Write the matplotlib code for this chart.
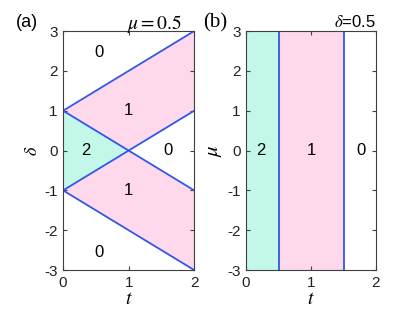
import numpy as np
import matplotlib.pyplot as plt

plt.rcParams['font.family'] = ['Liberation Sans', 'DejaVu Sans']
plt.rcParams['mathtext.fontset'] = 'stix'
plt.rcParams['axes.unicode_minus'] = False

# фазовые границы для (a): delta = +-1 +- t
t_a = np.array([0.0, 1.0, 2.0])
upper_top = np.array([1.0, 2.0, 3.0])       # delta = 1 + t
upper_bot = np.array([1.0, 0.0, 1.0])       # max(1 - t, t - 1)
lower_top = np.array([-1.0, 0.0, -1.0])     # min(t - 1, 1 - t)
lower_bot = np.array([-1.0, -2.0, -3.0])    # delta = -1 - t
green_top = np.array([1.0, 0.0])
green_bot = np.array([-1.0, 0.0])
t_green = np.array([0.0, 1.0])

# границы для (b)
b_edges = [0.0, 0.5, 1.5, 2.0]
b_labels = ['2', '1', '0']
b_label_t = [0.22, 1.0, 1.77]

# подписи областей (a)
a_text_pos = [(0.55, 2.45, '0'), (1.0, 1.0, '1'), (0.35, 0.0, '2'),
              (1.6, 0.0, '0'), (1.0, -1.0, '1'), (0.55, -2.55, '0')]

green = '#c2f7e9'
pink = '#fdd9eb'
blue = '#3556e6'
axcol = '#404040'

fig = plt.figure(figsize=(4.15, 3.2), dpi=100)
ax1 = fig.add_axes([0.152, 0.156, 0.316, 0.747])
ax2 = fig.add_axes([0.593, 0.156, 0.313, 0.747])

# (a)
ax1.fill_between(t_a, upper_bot, upper_top, color=pink, lw=0)
ax1.fill_between(t_a, lower_bot, lower_top, color=pink, lw=0)
ax1.fill_between(t_green, green_bot, green_top, color=green, lw=0)
ts = np.array([0.0, 2.0])
for d0 in [1, -1]:
    ax1.plot(ts, d0 + ts, color=blue, lw=1.3)
    ax1.plot(ts, d0 - ts, color=blue, lw=1.3)
for x, y, s in a_text_pos:
    ax1.text(x, y, s, ha='center', va='center', fontsize=12)
ax1.set_ylabel(r'$\delta$', fontsize=13, labelpad=2)
ax1.text(-0.36, 1.015, '(a)', transform=ax1.transAxes, fontsize=13)
ax1.text(0.91, 1.01, r'$\mu = 0.5$', transform=ax1.transAxes, ha='right',
         fontsize=14)

# (b)
ax2.axvspan(b_edges[0], b_edges[1], color=green, lw=0)
ax2.axvspan(b_edges[1], b_edges[2], color=pink, lw=0)
for xb in b_edges[1:3]:
    ax2.axvline(xb, color=blue, lw=1.3)
for xm, s in zip(b_label_t, b_labels):
    ax2.text(xm, 0, s, ha='center', va='center', fontsize=12)
ax2.set_ylabel(r'$\mu$', fontsize=15, labelpad=2)
ax2.text(-0.33, 1.015, '(b)', transform=ax2.transAxes, fontsize=15,
         family='Liberation Serif')
ax2.text(1.0, 1.015, r'$\delta$=0.5', transform=ax2.transAxes, ha='right',
         fontsize=12)

for ax in [ax1, ax2]:
    ax.set_xlim(0, 2)
    ax.set_ylim(-3, 3)
    ax.set_xticks([0, 1, 2])
    ax.set_yticks(range(-3, 4))
    ax.set_xlabel(r'$t$', fontsize=14, labelpad=1)
    ax.tick_params(direction='in', length=3, top=True, right=True,
                   labelsize=11, colors=axcol, labelcolor='#222222', pad=4)
    for sp in ax.spines.values():
        sp.set_color(axcol)
        sp.set_linewidth(0.8)

fig.savefig('out.png', dpi=100)
